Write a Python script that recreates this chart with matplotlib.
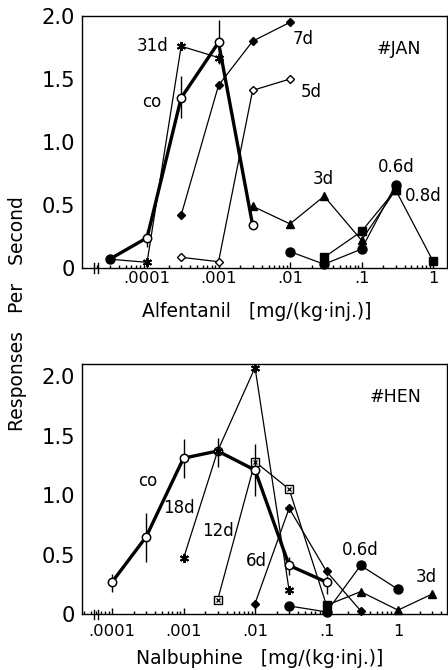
import matplotlib
matplotlib.use("Agg")
import matplotlib.pyplot as plt
import numpy as np

plt.rcParams['font.family'] = ['DejaVu Sans']

# ---------------- data ----------------
xtick_vals = [1e-4, 1e-3, 1e-2, 1e-1, 1]
xtick_labels = ['.0001', '.001', '.01', '.1', '1']
ytick_vals = [0, 0.5, 1.0, 1.5, 2.0]
ytick_labels = ['0', '0.5', '1.0', '1.5', '2.0']

# Alfentanil (#JAN)
jan_co_x = [3e-5, 1e-4, 3e-4, 1e-3, 3e-3]
jan_co_y = [0.07, 0.24, 1.35, 1.79, 0.34]
jan_co_lo = [0.07, 0.17, 1.19, 1.62, 0.34]
jan_co_hi = [0.07, 0.30, 1.52, 1.97, 0.34]
jan_31d_x = [3e-5, 1e-4, 3e-4, 1e-3]
jan_31d_y = [0.07, 0.045, 1.76, 1.67]
jan_7d_x = [3e-4, 1e-3, 3e-3, 1e-2]
jan_7d_y = [0.42, 1.45, 1.80, 1.95]
jan_5d_x = [3e-4, 1e-3, 3e-3, 1e-2]
jan_5d_y = [0.085, 0.05, 1.41, 1.50]
jan_3d_x = [3e-3, 1e-2, 3e-2, 1e-1, 3e-1]
jan_3d_y = [0.49, 0.35, 0.57, 0.22, 0.62]
jan_06d_x = [1e-2, 3e-2, 1e-1, 3e-1]
jan_06d_y = [0.13, 0.03, 0.15, 0.66]
jan_08d_x = [3e-2, 1e-1, 3e-1, 1]
jan_08d_y = [0.085, 0.29, 0.62, 0.055]

# Nalbuphine (#HEN)
hen_co_x = [1e-4, 3e-4, 1e-3, 3e-3, 1e-2, 3e-2, 1e-1]
hen_co_y = [0.27, 0.65, 1.31, 1.37, 1.21, 0.41, 0.27]
hen_co_lo = [0.19, 0.44, 1.14, 1.24, 0.99, 0.33, 0.17]
hen_co_hi = [0.34, 0.85, 1.47, 1.48, 1.43, 0.48, 0.32]
hen_18d_x = [1e-3, 3e-3, 1e-2, 3e-2]
hen_18d_y = [0.47, 1.37, 2.07, 0.20]
hen_12d_x = [3e-3, 1e-2, 3e-2, 1e-1]
hen_12d_y = [0.12, 1.28, 1.05, 0.075]
hen_6d_x = [1e-2, 3e-2, 1e-1, 3e-1]
hen_6d_y = [0.09, 0.89, 0.36, 0.03]
hen_06d_x = [3e-2, 1e-1, 3e-1, 1]
hen_06d_y = [0.07, 0.02, 0.41, 0.21]
hen_3d_x = [1e-1, 3e-1, 1, 3]
hen_3d_y = [0.075, 0.19, 0.035, 0.17]

# ---------------- figure ----------------
W, H = 448, 670
fig = plt.figure(figsize=(W / 100, H / 100), dpi=100)

def px_axes(left, right, top, bottom):
    return fig.add_axes([left / W, 1 - bottom / H, (right - left) / W, (bottom - top) / H])

ax1 = px_axes(82, 447, 16, 268)
ax2 = px_axes(82, 447, 364, 614.3)

THIN = 0.9
THICK = 2.4
ASTER = (6, 2, 0)

def style_axes(ax, xlim, ylim, xpad):
    ax.set_xscale('log')
    ax.set_xlim(*xlim)
    ax.set_ylim(*ylim)
    ax.set_xticks(xtick_vals)
    ax.set_xticklabels(xtick_labels)
    ax.xaxis.set_minor_locator(matplotlib.ticker.LogLocator(base=10, subs=np.arange(2, 10), numticks=20))
    ax.xaxis.set_minor_formatter(matplotlib.ticker.NullFormatter())
    ax.set_yticks(ytick_vals)
    ax.set_yticklabels(ytick_labels)
    ax.tick_params(axis='x', which='major', direction='in', length=4, width=1, labelsize=11.8, pad=xpad)
    ax.tick_params(axis='x', which='minor', direction='in', length=2.4, width=1)
    ax.tick_params(axis='y', length=0, labelsize=15.2, pad=5)
    for s in ax.spines.values():
        s.set_linewidth(1.0)
    # axis break marks
    for fx in (0.033, 0.044):
        ax.plot([fx, fx], [-0.018, 0.018], transform=ax.transAxes, color='black',
                lw=1.0, clip_on=False, zorder=6)

style_axes(ax1, (10 ** -4.91, 10 ** 0.196), (0, 2.0), 2.5)
style_axes(ax2, (10 ** -4.42, 10 ** 0.685), (0, 2.1), 7)

def series(ax, x, y, marker, ms, fc='black', mew=1.0, start=0, z=3):
    ax.plot(x, y, color='black', lw=THIN, zorder=z, clip_on=False)
    ax.plot(x[start:], y[start:], ls='none', marker=marker, ms=ms, mfc=fc, mec='black',
            mew=mew, zorder=z + 0.5, clip_on=False)

def xbox(ax, x, y, z=4):
    ax.plot(x, y, color='black', lw=THIN, zorder=z, clip_on=False)
    ax.plot(x, y, ls='none', marker='s', ms=5.5, mfc='white', mec='black', mew=1.0,
            zorder=z + 0.5, clip_on=False)
    ax.plot(x, y, ls='none', marker='x', ms=3.0, mec='black', mew=0.9,
            zorder=z + 0.6, clip_on=False)

def control(ax, x, y, lo, hi, first_filled=False):
    x = np.array(x); y = np.array(y)
    ax.vlines(x, lo, hi, color='black', lw=1.0, zorder=7)
    ax.plot(x, y, color='black', lw=THICK, zorder=7, solid_capstyle='round', clip_on=False)
    s = 1 if first_filled else 0
    ax.plot(x[s:], y[s:], ls='none', marker='o', ms=6, mfc='white', mec='black', mew=1.1,
            zorder=8, clip_on=False)
    if first_filled:
        ax.plot(x[:1], y[:1], ls='none', marker='o', ms=6.5, mfc='black', mec='black',
                zorder=8, clip_on=False)

# ---- top panel ----
series(ax1, jan_31d_x, jan_31d_y, ASTER, 6.5, mew=1.4, start=1)
series(ax1, jan_7d_x, jan_7d_y, 'D', 3.8)
series(ax1, jan_5d_x, jan_5d_y, 'D', 3.8, fc='white')
series(ax1, jan_3d_x, jan_3d_y, '^', 6)
series(ax1, jan_06d_x, jan_06d_y, 'o', 6.5)
series(ax1, jan_08d_x, jan_08d_y, 's', 6.2, z=4)
control(ax1, jan_co_x, jan_co_y, jan_co_lo, jan_co_hi, first_filled=True)

lab = dict(ha='center', va='center', fontsize=12)
ax1.text(1.2e-4, 1.76, '31d', **lab)
ax1.text(1.18e-4, 1.32, 'co', **lab)
ax1.text(0.0151, 1.82, '7d', **lab)
ax1.text(0.0200, 1.40, '5d', **lab)
ax1.text(0.029, 0.71, '3d', **lab)
ax1.text(0.31, 0.80, '0.6d', **lab)
ax1.text(0.73, 0.575, '0.8d', **lab)
ax1.text(0.33, 1.74, '#JAN', ha='center', va='center', fontsize=12.5)

# ---- bottom panel ----
series(ax2, hen_6d_x, hen_6d_y, 'D', 3.8)
series(ax2, hen_06d_x, hen_06d_y, 'o', 6.5)
series(ax2, hen_3d_x, hen_3d_y, '^', 6, start=1)
ax2.plot(hen_3d_x[:1], hen_3d_y[:1], ls='none', marker='s', ms=6.2, mfc='black', mec='black', zorder=5)
xbox(ax2, hen_12d_x[:-1], hen_12d_y[:-1])
ax2.plot(hen_12d_x[-2:], hen_12d_y[-2:], color='black', lw=THIN, zorder=4)
control(ax2, hen_co_x, hen_co_y, hen_co_lo, hen_co_hi)
ax2.plot(hen_18d_x, hen_18d_y, color='black', lw=THIN, zorder=3, clip_on=False)
ax2.plot(hen_18d_x, hen_18d_y, ls='none', marker=ASTER, ms=6.5, mec='black', mew=1.4,
         zorder=9, clip_on=False)

ax2.text(10 ** -3.50, 1.12, 'co', **lab)
ax2.text(10 ** -3.07, 0.89, '18d', **lab)
ax2.text(10 ** -2.52, 0.70, '12d', **lab)
ax2.text(10 ** -1.98, 0.45, '6d', **lab)
ax2.text(10 ** -0.53, 0.54, '0.6d', **lab)
ax2.text(10 ** 0.40, 0.31, '3d', **lab)
ax2.text(10 ** -0.03, 1.82, '#HEN', ha='center', va='center', fontsize=12.5)

# axis labels
ax1.set_xlabel('Alfentanil   [mg/(kg·inj.)]', fontsize=13.5, va='top')
ax1.xaxis.set_label_coords(0.479, -0.135)
ax2.set_xlabel('Nalbuphine   [mg/(kg·inj.)]', fontsize=13.5, va='top')
ax2.xaxis.set_label_coords(0.488, -0.14)

fig.text(18 / W, 1 - 314 / H, 'Responses   Per   Second', rotation=90,
         ha='center', va='center', fontsize=13.5)

fig.savefig('out.png', dpi=100)
